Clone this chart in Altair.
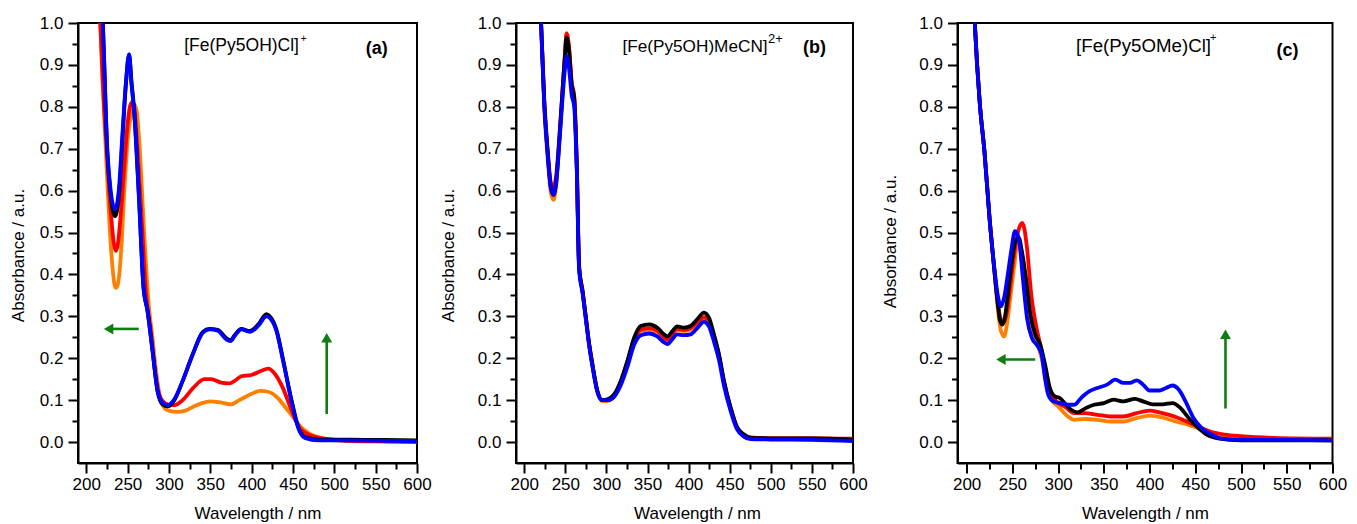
import altair as alt
import pandas as pd

FONT = "Liberation Sans"
GREEN = "#0e7d12"

SERIES = ["orange", "red", "black", "blue"]
COLORS = ["#ff8000", "#ff0000", "#000000", "#0000ff"]

# ---------------- panel (a) [Fe(Py5OH)Cl]+ ----------------
a_orange = [(212, 1.25), (217, 1.0), (220, 0.85), (225, 0.64), (230, 0.46), (235.6, 0.368), (238, 0.375),
            (242, 0.45), (246, 0.6), (250, 0.72), (254, 0.78), (258, 0.805), (261, 0.79), (264, 0.72),
            (270, 0.50), (275, 0.34), (280, 0.25), (285, 0.16), (290, 0.10), (295, 0.08), (300, 0.075),
            (310, 0.072), (320, 0.075), (330, 0.085), (340, 0.093), (350, 0.097), (360, 0.095), (375, 0.09),
            (385, 0.10), (400, 0.115), (410, 0.122), (420, 0.12), (430, 0.108), (440, 0.085), (450, 0.06),
            (460, 0.035), (470, 0.02), (480, 0.012), (490, 0.007), (500, 0.004), (550, 0.001), (600, 0.0)]
a_red = [(212, 1.25), (217, 1.0), (220, 0.86), (225, 0.69), (230, 0.54), (235.6, 0.456), (238, 0.47),
         (242, 0.55), (246, 0.66), (250, 0.76), (254.7, 0.81), (257.5, 0.805), (262, 0.695), (268, 0.496),
         (272, 0.36), (278, 0.265), (284.2, 0.153), (290, 0.105), (298.4, 0.09), (306.5, 0.088), (316.6, 0.10),
         (328.8, 0.128), (343, 0.15), (351, 0.15), (363.2, 0.142), (373.3, 0.14), (379.4, 0.146),
         (387.5, 0.157), (399.7, 0.16), (411.8, 0.17), (420, 0.175), (428, 0.163), (438, 0.128), (448, 0.077),
         (458.4, 0.033), (472.5, 0.015), (492.8, 0.007), (520, 0.003), (560, 0.002), (600, 0.0)]
a_black = [(212, 1.25), (220, 1.0), (225.5, 0.69), (229.5, 0.59), (234.8, 0.539), (239.6, 0.59), (243.7, 0.72),
           (247.8, 0.85), (251.8, 0.925), (254.7, 0.86), (257.8, 0.795), (263.9, 0.58), (269.2, 0.37),
           (274.1, 0.313), (280.2, 0.217), (286.3, 0.12), (292.3, 0.09), (298.4, 0.085), (306.5, 0.1),
           (316.6, 0.146), (328.8, 0.21), (341, 0.263), (349, 0.27), (359, 0.268), (369.3, 0.248),
           (374.5, 0.243), (379.4, 0.255), (387.5, 0.27), (397.6, 0.265), (407.8, 0.28), (417.9, 0.305),
           (421.9, 0.3), (430, 0.268), (438.1, 0.196), (448.2, 0.1), (456.3, 0.036), (464.4, 0.012),
           (481, 0.006), (520, 0.006), (560, 0.005), (600, 0.004)]
a_blue = [(212, 1.25), (220, 1.0), (225.5, 0.695), (229.5, 0.6), (234.8, 0.555), (239.6, 0.607), (243.7, 0.734),
          (247.8, 0.854), (251.8, 0.925), (254.7, 0.854), (257.8, 0.79), (263.9, 0.575), (269.2, 0.368),
          (274.1, 0.313), (280.2, 0.217), (286.3, 0.122), (292.3, 0.094), (298.4, 0.088), (306.5, 0.102),
          (316.6, 0.146), (328.8, 0.209), (341, 0.261), (349, 0.269), (359, 0.266), (369.3, 0.245),
          (374.5, 0.241), (379.4, 0.253), (387.5, 0.269), (397.6, 0.263), (407.8, 0.277), (417.9, 0.30),
          (421.9, 0.296), (430, 0.265), (438.1, 0.193), (448.2, 0.098), (456.3, 0.034), (464.4, 0.010),
          (481, 0.004), (520, 0.004), (560, 0.003), (600, 0.002)]

# ---------------- panel (b) [Fe(Py5OH)MeCN]2+ ----------------
b_orange = [(212, 1.25), (220.5, 1.0), (224.3, 0.80), (228.4, 0.68), (232.4, 0.595), (235.7, 0.578), (238.5, 0.605),
            (242.6, 0.71), (246.6, 0.835), (249.5, 0.92), (251.5, 0.975), (254.6, 0.94), (257.6, 0.86),
            (260.8, 0.825), (264, 0.66), (266.8, 0.42), (271, 0.36), (275, 0.297), (279, 0.234), (283, 0.185),
            (289, 0.12), (295, 0.098), (301.3, 0.098), (309.4, 0.11), (317.5, 0.142), (325.6, 0.19),
            (333.7, 0.243), (341.8, 0.265), (351.9, 0.268), (362, 0.263), (370, 0.248), (374.2, 0.242),
            (380, 0.256), (386, 0.267), (394.3, 0.265), (402.4, 0.268), (410.5, 0.283), (418.6, 0.296),
            (424.7, 0.286), (430.8, 0.25), (436.9, 0.205), (443, 0.142), (451, 0.08), (459, 0.034),
            (467.2, 0.017), (475.3, 0.01), (500, 0.008), (550, 0.008), (600, 0.007)]
b_red = [(212, 1.25), (220.5, 1.0), (224.3, 0.82), (228.4, 0.70), (232.4, 0.62), (235.7, 0.61), (238.5, 0.63),
         (242.6, 0.725), (246.6, 0.84), (249.5, 0.925), (251.5, 0.975), (254.6, 0.94), (257.6, 0.86),
         (260.8, 0.825), (264, 0.66), (266.8, 0.42), (271, 0.36), (275, 0.297), (279, 0.234), (283, 0.185),
         (289, 0.122), (295, 0.10), (301.3, 0.10), (309.4, 0.112), (317.5, 0.144), (325.6, 0.192),
         (333.7, 0.245), (341.8, 0.268), (351.9, 0.272), (362, 0.266), (370, 0.25), (374.2, 0.245),
         (380, 0.258), (386, 0.27), (394.3, 0.268), (402.4, 0.272), (410.5, 0.286), (418.6, 0.298),
         (424.7, 0.288), (430.8, 0.252), (436.9, 0.207), (443, 0.144), (451, 0.082), (459, 0.035),
         (467.2, 0.018), (475.3, 0.011), (500, 0.009), (550, 0.009), (600, 0.008)]
b_black = [(212, 1.25), (220.5, 1.0), (224.3, 0.814), (228.4, 0.695), (232.4, 0.607), (235.7, 0.59), (238.5, 0.616),
           (242.6, 0.718), (246.6, 0.838), (249.5, 0.92), (251.5, 0.965), (254.6, 0.933), (257.6, 0.854),
           (260.8, 0.82), (264, 0.655), (266.8, 0.416), (271, 0.36), (275, 0.297), (279, 0.234), (283, 0.185),
           (289, 0.122), (295, 0.10), (301.3, 0.102), (309.4, 0.114), (317.5, 0.146), (325.6, 0.194),
           (333.7, 0.249), (341.8, 0.277), (351.9, 0.281), (362, 0.273), (370, 0.257), (374.2, 0.252),
           (380, 0.264), (386, 0.276), (394.3, 0.273), (402.4, 0.277), (410.5, 0.293), (418.6, 0.309),
           (424.7, 0.297), (430.8, 0.257), (436.9, 0.21), (443, 0.146), (451, 0.083), (459, 0.035),
           (467.2, 0.018), (475.3, 0.01), (500, 0.009), (550, 0.009), (600, 0.006)]
b_blue = [(212, 1.25), (220.5, 1.0), (224.3, 0.81), (228.4, 0.69), (232.4, 0.607), (235.7, 0.59), (238.5, 0.612),
          (242.6, 0.71), (246.6, 0.82), (249.5, 0.89), (251.5, 0.92), (254.6, 0.89), (257.6, 0.83),
          (260.8, 0.80), (264, 0.645), (266.8, 0.41), (271, 0.355), (275, 0.292), (279, 0.23), (283, 0.18),
          (289, 0.12), (295, 0.10), (301.3, 0.10), (309.4, 0.108), (317.5, 0.136), (325.6, 0.18),
          (333.7, 0.232), (341.8, 0.255), (351.9, 0.259), (362, 0.252), (370, 0.238), (374.2, 0.234),
          (380, 0.245), (386, 0.257), (394.3, 0.255), (402.4, 0.257), (410.5, 0.272), (418.6, 0.287),
          (424.7, 0.276), (430.8, 0.24), (436.9, 0.196), (443, 0.135), (451, 0.075), (459, 0.03),
          (467.2, 0.013), (475.3, 0.007), (500, 0.006), (550, 0.005), (600, 0.002)]

# ---------------- panel (c) [Fe(Py5OMe)Cl]+ ----------------
c_orange = [(205, 1.2), (208.9, 1.0), (214.3, 0.81), (219.6, 0.69), (225, 0.535), (230.3, 0.41), (234, 0.32),
            (237.5, 0.265), (241, 0.252), (244, 0.28), (248, 0.35), (252, 0.42), (255.5, 0.47), (258, 0.465),
            (262.5, 0.41), (268, 0.31), (275, 0.25), (282, 0.2), (287.5, 0.14), (293, 0.1), (300, 0.085),
            (310.7, 0.061), (317.9, 0.053), (328.6, 0.055), (342.9, 0.053), (357, 0.049), (371, 0.049),
            (385.7, 0.057), (400, 0.063), (414, 0.059), (428.6, 0.049), (442.9, 0.041), (457, 0.03),
            (468, 0.02), (482, 0.012), (500, 0.007), (550, 0.005), (600, 0.004)]
c_red = [(205, 1.2), (208.9, 1.0), (214.3, 0.81), (219.6, 0.69), (225, 0.535), (230.3, 0.41), (234, 0.335),
         (237, 0.295), (240, 0.285), (244, 0.31), (248, 0.38), (252, 0.45), (256, 0.50), (260.7, 0.523),
         (263, 0.51), (266, 0.463), (270.7, 0.351), (275, 0.288), (280.4, 0.233), (285.7, 0.177), (291, 0.121),
         (298.2, 0.097), (307.1, 0.085), (317.9, 0.069), (328.6, 0.069), (342.9, 0.065), (357.1, 0.061),
         (371.4, 0.061), (385.7, 0.069), (400, 0.075), (410.7, 0.071), (421.4, 0.065), (432, 0.057),
         (444.6, 0.045), (457.1, 0.033), (468, 0.024), (482, 0.018), (500, 0.014), (535.7, 0.01), (600, 0.008)]
c_black = [(205, 1.2), (208.9, 1.0), (214.3, 0.81), (219.6, 0.69), (225, 0.535), (230.3, 0.41), (234, 0.33),
           (236.5, 0.29), (239.2, 0.28), (242, 0.30), (246, 0.37), (250, 0.44), (253.5, 0.48), (257.1, 0.487),
           (260, 0.46), (264.3, 0.40), (269.6, 0.305), (275, 0.257), (280.4, 0.233), (285.7, 0.185),
           (291, 0.129), (296.4, 0.109), (301.8, 0.105), (307.1, 0.093), (314.3, 0.077), (321.4, 0.071),
           (330.4, 0.081), (339.3, 0.089), (350, 0.093), (360.7, 0.101), (371.4, 0.097), (383.9, 0.103),
           (392.9, 0.097), (403.6, 0.09), (414.3, 0.09), (425, 0.093), (433.9, 0.081), (442.9, 0.057),
           (451.8, 0.037), (462.5, 0.018), (475, 0.009), (500, 0.004), (550, 0.004), (600, 0.004)]
c_blue = [(205, 1.2), (208.9, 1.0), (214.3, 0.81), (219.6, 0.69), (225, 0.535), (230.3, 0.415), (233.9, 0.352),
          (237.5, 0.324), (241, 0.345), (245, 0.40), (249, 0.46), (252.8, 0.503), (257, 0.485), (261.4, 0.392),
          (266, 0.296), (271.4, 0.248), (276.7, 0.232), (282, 0.209), (285.6, 0.153), (289.2, 0.113),
          (294.6, 0.097), (301.8, 0.093), (310.7, 0.089), (317.9, 0.089), (325, 0.105), (333.9, 0.121),
          (342.9, 0.129), (353.6, 0.137), (362.5, 0.149), (371.4, 0.141), (378.6, 0.141), (385.7, 0.147),
          (392.9, 0.137), (400, 0.123), (410.7, 0.123), (417.9, 0.129), (425, 0.135), (432.1, 0.125),
          (439.3, 0.097), (448.2, 0.057), (457.1, 0.033), (467.9, 0.018), (478.6, 0.008), (500, 0.005),
          (550, 0.005), (600, 0.004)]

# tick values
x_major = [200, 250, 300, 350, 400, 450, 500, 550, 600]
x_minor = [225, 275, 325, 375, 425, 475, 525, 575]
y_major = [0.0, 0.1, 0.2, 0.3, 0.4, 0.5, 0.6, 0.7, 0.8, 0.9, 1.0]
y_minor = [0.05, 0.15, 0.25, 0.35, 0.45, 0.55, 0.65, 0.75, 0.85, 0.95]

# annotations: (text, wavelength, absorbance, font size)
titles = {
    "a": [("[Fe(Py5OH)Cl]", 318.5, 0.944, 17.5), ("+", 459.4, 0.962, 10), ("(a)", 551.4, 0.938, 18)],
    "b": [("[Fe(Py5OH)MeCN]", 319.5, 0.943, 17.2), ("2+", 496.5, 0.962, 13), ("(b)", 553.1, 0.94, 18)],
    "c": [("[Fe(Py5OMe)Cl]", 319.6, 0.944, 18.7), ("+", 466, 0.965, 11), ("(c)", 550.7, 0.932, 18)],
}
# arrows: horizontal (x_start, x_end, y, head_x) and vertical (x, y_start, y_end, head_y)
h_arrows = {"a": (263.5, 229, 0.27, 227), "c": (275, 240, 0.197, 237.5)}
v_arrows = {"a": (490.8, 0.067, 0.245, 0.249), "c": (483, 0.08, 0.25, 0.257)}

panel_data = {
    "a": [a_orange, a_red, a_black, a_blue],
    "b": [b_orange, b_red, b_black, b_blue],
    "c": [c_orange, c_red, c_black, c_blue],
}

XS = alt.Scale(domain=[190, 600], nice=False, zero=False)
YS = alt.Scale(domain=[-0.05, 1.0], nice=False, zero=False)


def main_x_axis(tx):
    kw = {} if tx is None else {"titleX": tx}
    return alt.Axis(values=x_major, orient="bottom", tickSize=10, tickWidth=2, tickColor="black",
                    domainWidth=2, domainColor="black", labelFontSize=17, labelFont=FONT,
                    labelColor="black", labelPadding=3, labelFlush=False, labelOverlap=False,
                    title="Wavelength / nm", titleFontSize=17, titleFont=FONT, titleFontWeight="normal",
                    titleColor="black", titlePadding=13, grid=False, **kw)


def main_y_axis(tp, ty):
    return alt.Axis(values=y_major, format=".1f", orient="left", tickSize=10, tickWidth=2, tickColor="black",
                    domainWidth=2, domainColor="black", labelFontSize=17, labelFont=FONT,
                    labelColor="black", labelPadding=5, labelFlush=False, labelOverlap=False,
                    title="Absorbance / a.u.", titleFontSize=17, titleFont=FONT, titleFontWeight="normal",
                    titleColor="black", titlePadding=tp, titleY=ty, grid=False)


def make_panel(key, width, tp, ty, tx):
    rows = []
    for name, pts in zip(SERIES, panel_data[key]):
        for wl, a in pts:
            rows.append({"series": name, "wl": wl, "A": a})
    df = pd.DataFrame(rows)
    base = alt.Chart(df)
    layers = []
    # minor ticks axes (invisible carrier layer)
    layers.append(base.transform_filter(alt.datum.A <= 1.0).mark_point(opacity=0, clip=True).encode(
        x=alt.X("wl:Q", scale=XS, axis=alt.Axis(values=x_minor, orient="bottom", tickSize=6, tickWidth=2,
                                                 tickColor="black", labels=False, domain=False, grid=False,
                                                 title=None)),
        y=alt.Y("A:Q", scale=YS, axis=alt.Axis(values=y_minor, orient="left", tickSize=6, tickWidth=2,
                                                tickColor="black", labels=False, domain=False, grid=False,
                                                title=None)),
    ))
    for i, (name, col) in enumerate(zip(SERIES, COLORS)):
        xa = main_x_axis(tx) if i == 0 else None
        ya = main_y_axis(tp, ty) if i == 0 else None
        layers.append(base.transform_filter(alt.datum.series == name).mark_line(
            color=col, strokeWidth=3.8, clip=True, interpolate="monotone").encode(
            x=alt.X("wl:Q", scale=XS, axis=xa),
            y=alt.Y("A:Q", scale=YS, axis=ya),
        ))
    # annotations
    (t1, x1, y1, f1), (t2, x2, y2, f2), (t3, x3, y3, f3) = titles[key]
    for txt, x, y, fs, align, weight in [(t1, x1, y1, f1, "left", "normal"),
                                         (t2, x2, y2, f2, "left", "normal"),
                                         (t3, x3, y3, f3, "center", "bold")]:
        tdf = pd.DataFrame([{"text": txt, "wl": x, "A": y}])
        layers.append(alt.Chart(tdf).mark_text(
            align=align, baseline="middle", fontSize=fs, font=FONT, fontWeight=weight, color="black").encode(
            x=alt.X("wl:Q", scale=XS, axis=None), y=alt.Y("A:Q", scale=YS, axis=None), text="text:N"))
    # arrows
    if key in h_arrows:
        x0, x1_, y0, hx = h_arrows[key]
        hdf = pd.DataFrame([{"x": x0, "x2": x1_, "y": y0, "hx": hx}])
        hb = alt.Chart(hdf)
        layers.append(hb.mark_rule(color=GREEN, strokeWidth=2.6).encode(
            x=alt.X("x:Q", scale=XS, axis=None), x2="x2:Q", y=alt.Y("y:Q", scale=YS, axis=None)))
        layers.append(hb.mark_point(shape="triangle-left", filled=True, opacity=1, size=120,
                                    color=GREEN).encode(
            x=alt.X("hx:Q", scale=XS, axis=None), y=alt.Y("y:Q", scale=YS, axis=None)))
    if key in v_arrows:
        x0, y0, y1_, hy = v_arrows[key]
        vdf = pd.DataFrame([{"x": x0, "y": y0, "y2": y1_, "hy": hy}])
        vb = alt.Chart(vdf)
        layers.append(vb.mark_rule(color=GREEN, strokeWidth=2.6).encode(
            x=alt.X("x:Q", scale=XS, axis=None), y=alt.Y("y:Q", scale=YS, axis=None), y2="y2:Q"))
        layers.append(vb.mark_point(shape="triangle-up", filled=True, opacity=1, size=120,
                                    color=GREEN).encode(
            x=alt.X("x:Q", scale=XS, axis=None), y=alt.Y("hy:Q", scale=YS, axis=None)))
    return alt.layer(*layers).resolve_axis(x="independent", y="independent").properties(
        width=width, height=440)


pa = make_panel("a", 339, 11.5, 232, 179.5)
pb = make_panel("b", 337, 20, 232, 181)
pc = make_panel("c", 375, 19.6, 218, None)

chart = alt.hconcat(alt.hconcat(pa, pb, spacing=5), pc, spacing=10.5).configure(
    padding={"left": 0, "top": 5, "right": 0, "bottom": 0}, background="white"
).configure_view(stroke="black", strokeWidth=2)

chart.save("out.html", embed_options={"renderer": "svg", "actions": False})
